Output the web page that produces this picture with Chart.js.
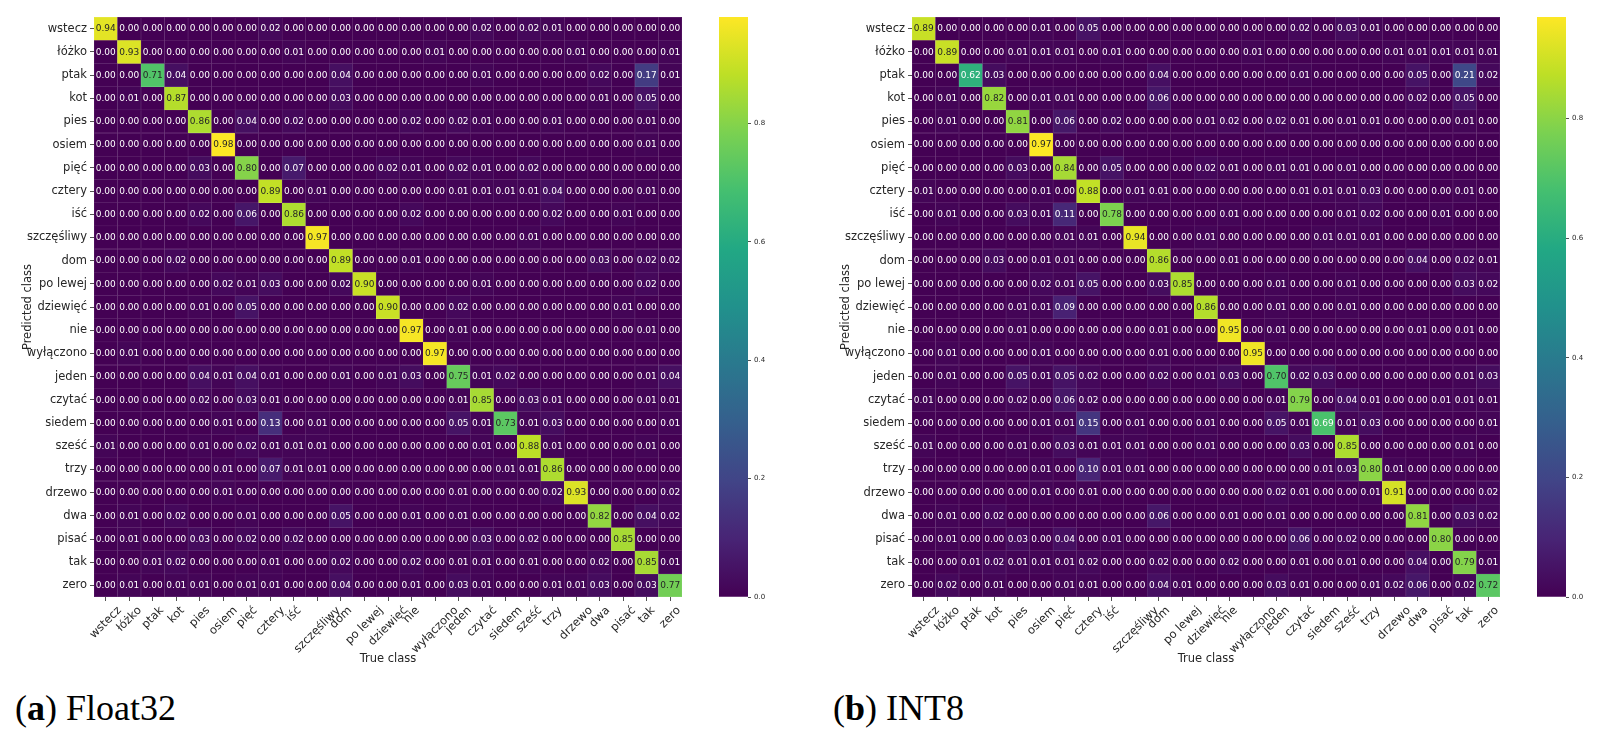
<!DOCTYPE html>
<html>
<head>
<meta charset="utf-8">
<script src="https://cdn.jsdelivr.net/npm/chart.js@4.4.1/dist/chart.umd.min.js"></script>
<style>
html,body{margin:0;padding:0;background:#fff;width:1598px;height:743px;overflow:hidden;}
canvas{position:absolute;top:0;}
.cap{position:absolute;top:690px;font-family:"Liberation Serif","Times New Roman",serif;font-size:36px;line-height:36px;color:#000;white-space:nowrap;}
.cap b{font-weight:bold;}
</style>
</head>
<body>
<canvas id="hmA" width="690" height="680" style="left:0px;width:690px;height:680px"></canvas>
<canvas id="cbA" width="60" height="610" style="left:719px;width:60px;height:610px"></canvas>
<canvas id="hmB" width="690" height="680" style="left:818px;width:690px;height:680px"></canvas>
<canvas id="cbB" width="60" height="610" style="left:1537px;width:60px;height:610px"></canvas>
<div class="cap" style="left:15px">(<b>a</b>) Float32</div>
<div class="cap" style="left:833px">(<b>b</b>) INT8</div>
<script>
// ---------- data ----------
const classes = ['wstecz','łóżko','ptak','kot','pies','osiem','pięć','cztery','iść','szczęśliwy','dom','po lewej','dziewięć','nie','wyłączono','jeden','czytać','siedem','sześć','trzy','drzewo','dwa','pisać','tak','zero'];

// rows = predicted class, columns = true class
const float32Values = [
  [0.94,0,0,0,0,0,0,0.02,0,0,0,0,0, 0,0,0,0.02,0,0.02,0.01,0,0,0,0,0],
  [0,0.93,0,0,0,0,0,0,0.01,0,0,0,0, 0,0.01,0,0,0,0,0,0.01,0,0,0,0.01],
  [0,0,0.71,0.04,0,0,0,0,0,0,0.04,0,0, 0,0,0,0.01,0,0,0,0,0.02,0,0.17,0.01],
  [0,0.01,0,0.87,0,0,0,0,0,0,0.03,0,0, 0,0,0,0,0,0,0,0,0.01,0,0.05,0],
  [0,0,0,0,0.86,0,0.04,0,0.02,0,0,0,0, 0.02,0,0.02,0.01,0,0,0.01,0,0,0,0.01,0],
  [0,0,0,0,0,0.98,0,0,0,0,0,0,0, 0,0,0,0,0,0,0,0,0,0,0.01,0],
  [0,0,0,0,0.03,0,0.80,0,0.07,0,0,0,0.02, 0.01,0,0.02,0.01,0,0.02,0,0,0,0,0,0],
  [0,0,0,0,0,0,0,0.89,0,0.01,0,0,0, 0,0,0.01,0.01,0.01,0.01,0.04,0,0,0,0.01,0],
  [0,0,0,0,0.02,0,0.06,0,0.86,0,0,0,0, 0.02,0,0,0,0,0,0.02,0,0,0.01,0,0],
  [0,0,0,0,0,0,0,0,0,0.97,0,0,0, 0,0,0,0,0,0.01,0,0,0,0,0,0],
  [0,0,0,0.02,0,0,0,0,0,0,0.89,0,0, 0.01,0,0,0,0,0,0,0,0.03,0,0.02,0.02],
  [0,0,0,0,0,0.02,0.01,0.03,0,0,0.02,0.90,0, 0,0,0,0.01,0,0,0,0,0,0,0.02,0],
  [0,0,0,0,0.01,0,0.05,0,0,0,0,0,0.90, 0,0,0.02,0,0,0,0,0,0,0.01,0,0],
  [0,0,0,0,0,0,0,0,0,0,0,0,0, 0.97,0,0.01,0,0,0,0,0,0,0,0.01,0],
  [0,0.01,0,0,0,0,0,0,0,0,0,0,0, 0,0.97,0,0,0,0,0,0,0,0,0,0],
  [0,0,0,0,0.04,0.01,0.04,0.01,0,0,0.01,0,0.01, 0.03,0,0.75,0.01,0.02,0,0,0,0,0,0.01,0.04],
  [0,0,0,0,0.02,0,0.03,0.01,0,0,0,0,0, 0,0,0.01,0.85,0,0.03,0.01,0,0,0,0.01,0.01],
  [0,0,0,0,0,0.01,0,0.13,0,0.01,0,0,0, 0,0,0.05,0.01,0.73,0.01,0.03,0,0,0,0,0.01],
  [0.01,0,0,0,0.01,0,0.02,0.01,0.01,0.01,0,0,0, 0,0,0,0.01,0,0.88,0.01,0,0,0,0.01,0],
  [0,0,0,0,0,0.01,0,0.07,0.01,0.01,0,0,0, 0,0,0,0,0.01,0.01,0.86,0,0,0,0,0],
  [0,0,0,0,0,0.01,0,0,0,0,0,0,0, 0,0,0.01,0,0,0,0.02,0.93,0,0,0,0.02],
  [0,0.01,0,0.02,0,0,0.01,0,0,0,0.05,0,0, 0.01,0,0.01,0,0,0,0,0,0.82,0,0.04,0.02],
  [0,0.01,0,0,0.03,0,0.02,0,0.02,0,0,0,0, 0,0,0,0.03,0,0.02,0,0,0,0.85,0,0],
  [0,0,0.01,0.02,0,0,0,0.01,0,0,0.02,0,0, 0.02,0,0.01,0.01,0,0.01,0,0,0.02,0,0.85,0.01],
  [0,0.01,0,0.01,0.01,0,0.01,0.01,0,0,0.04,0,0, 0.01,0,0.03,0.01,0,0,0.01,0.01,0.03,0,0.03,0.77]
];

const int8Values = [
  [0.89,0,0,0,0,0.01,0,0.05,0,0,0, 0,0,0,0,0,0.02,0,0.03,0.01,0,0,0, 0,0],
  [0,0.89,0,0,0.01,0.01,0.01,0,0.01,0,0, 0,0,0,0.01,0,0,0,0,0,0.01,0.01,0.01, 0.01,0.01],
  [0,0,0.62,0.03,0,0,0,0,0,0,0.04, 0,0,0,0,0,0.01,0,0,0,0,0.05,0, 0.21,0.02],
  [0,0.01,0,0.82,0,0.01,0.01,0,0,0,0.06, 0,0,0,0,0,0,0,0,0,0,0.02,0, 0.05,0],
  [0,0.01,0,0,0.81,0,0.06,0,0.02,0,0, 0,0.01,0.02,0,0.02,0.01,0,0.01,0.01,0,0,0, 0.01,0],
  [0,0,0,0,0,0.97,0,0,0,0,0, 0,0,0,0,0,0,0,0,0,0,0,0, 0,0],
  [0,0,0,0,0.03,0,0.84,0,0.05,0,0, 0,0.02,0.01,0,0.01,0.01,0,0.01,0,0,0,0, 0,0],
  [0.01,0,0,0,0,0.01,0,0.88,0,0.01,0.01, 0,0,0,0,0,0.01,0.01,0.01,0.03,0,0,0, 0.01,0],
  [0,0.01,0,0,0.03,0.01,0.11,0,0.78,0,0, 0,0,0.01,0,0,0,0,0.01,0.02,0,0,0.01, 0,0],
  [0,0,0,0,0,0,0.01,0.01,0,0.94,0, 0,0.01,0,0,0,0,0.01,0.01,0.01,0,0,0, 0,0],
  [0,0,0,0.03,0,0.01,0.01,0,0,0,0.86, 0,0,0.01,0,0,0,0,0,0,0,0.04,0, 0.02,0.01],
  [0,0,0,0,0,0.02,0.01,0.05,0,0,0.03, 0.85,0,0,0,0.01,0,0,0.01,0,0,0,0, 0.03,0.02],
  [0,0,0,0,0.01,0.01,0.09,0,0,0,0, 0,0.86,0,0,0.01,0,0,0.01,0,0,0,0, 0,0],
  [0,0,0,0,0.01,0,0,0,0,0,0.01, 0,0,0.95,0,0.01,0,0,0,0,0,0.01,0, 0.01,0],
  [0,0.01,0,0,0,0.01,0,0,0,0,0.01, 0,0,0,0.95,0,0,0,0,0,0,0,0, 0,0],
  [0,0.01,0,0,0.05,0.01,0.05,0.02,0,0,0.02, 0,0.01,0.03,0,0.70,0.02,0.03,0,0,0,0,0, 0.01,0.03],
  [0.01,0,0,0,0.02,0,0.06,0.02,0,0,0, 0,0,0,0,0.01,0.79,0,0.04,0.01,0,0,0.01, 0.01,0.01],
  [0,0,0,0,0,0.01,0.01,0.15,0,0.01,0, 0,0.01,0,0,0.05,0.01,0.69,0.01,0.03,0,0,0, 0,0.01],
  [0.01,0,0,0,0.01,0,0.03,0.01,0.01,0.01,0, 0,0.01,0,0,0,0.03,0,0.85,0,0,0,0, 0.01,0],
  [0,0,0,0,0,0.01,0,0.10,0.01,0.01,0, 0,0,0,0,0,0,0.01,0.03,0.80,0.01,0,0, 0,0],
  [0,0,0,0,0,0.01,0,0.01,0,0,0, 0,0,0,0,0.02,0.01,0,0,0.01,0.91,0,0, 0,0.02],
  [0,0.01,0,0.02,0,0,0,0,0,0,0.06, 0,0,0.01,0,0.01,0,0,0,0,0,0.81,0, 0.03,0.02],
  [0,0.01,0,0,0.03,0,0.04,0,0.01,0,0, 0,0,0,0,0,0.06,0,0.02,0,0,0,0.80, 0,0],
  [0,0,0.01,0.02,0.01,0.01,0.01,0.02,0,0,0.02, 0,0,0.02,0,0,0.01,0,0.01,0,0,0.04,0, 0.79,0.01],
  [0,0.02,0,0.01,0,0,0.01,0.01,0,0,0.04, 0.01,0,0,0,0.03,0.01,0,0,0.01,0.02,0.06,0, 0.02,0.72]
];

const colorbarTicks = [0.0, 0.2, 0.4, 0.6, 0.8];

// ---------- colour map (viridis) ----------
const viridisStops = ['#440154','#482475','#414487','#355f8d','#2a788e','#21918c','#22a884','#44bf70','#7ad151','#bddf26','#fde725'];
function hexRgb(h){ return [parseInt(h.slice(1,3),16), parseInt(h.slice(3,5),16), parseInt(h.slice(5,7),16)]; }
const viridisRgb = viridisStops.map(hexRgb);
function viridisArr(t){
  t = Math.max(0, Math.min(1, t));
  const p = t * (viridisRgb.length - 1);
  const i = Math.min(Math.floor(p), viridisRgb.length - 2);
  const f = p - i;
  return viridisRgb[i].map((c, k) => c + (viridisRgb[i+1][k] - c) * f);
}
function rgbStr(a){ return 'rgb(' + a.map(v => Math.round(v)).join(',') + ')'; }
function viridis(t){ return rgbStr(viridisArr(t)); }
function lineColor(t){ return rgbStr(viridisArr(t).map(c => c * 0.78 + 255 * 0.22)); }
function textColor(t){
  const lin = c => { c /= 255; return c <= 0.03928 ? c / 12.92 : Math.pow((c + 0.055) / 1.055, 2.4); };
  const [r, g, b] = viridisArr(t);
  const lum = 0.2126 * lin(r) + 0.7152 * lin(g) + 0.0722 * lin(b);
  return lum > 0.408 ? '#262626' : '#ffffff';
}

Chart.defaults.font.family = '"DejaVu Sans", sans-serif';
Chart.defaults.color = '#262626';
const LABEL_SIZE = 11.5;

// ---------- heatmap ----------
function makeHeatmap(canvasId, values) {
  const vmax = Math.max(...values.flat());
  const datasets = values.map((row, r) => ({
    label: classes[r],
    data: row.map(() => 1),
    backgroundColor: row.map(v => viridis(v / vmax)),
    borderColor: row.map(v => lineColor(v / vmax)),
    borderWidth: 0.5,
    borderSkipped: false,
    barPercentage: 1,
    categoryPercentage: 1,
    stack: 'cells'
  }));
  const annot = {
    id: 'annot',
    afterDatasetsDraw(chart) {
      const ctx = chart.ctx;
      ctx.save();
      ctx.font = '9px "DejaVu Sans"';
      ctx.textAlign = 'center';
      ctx.textBaseline = 'middle';
      values.forEach((row, r) => {
        chart.getDatasetMeta(r).data.forEach((bar, c) => {
          const p = bar.getProps(['x', 'y', 'base'], true);
          ctx.fillStyle = textColor(row[c] / vmax);
          ctx.fillText(row[c].toFixed(2), p.x, (p.y + p.base) / 2 + 0.5);
        });
      });
      ctx.restore();
    }
  };
  // x tick labels rotated 45 deg, centred on each tick (matplotlib ha="center")
  const xLabels = {
    id: 'xLabels',
    afterDraw(chart) {
      const xs = chart.scales.x;
      const ctx = chart.ctx;
      const y0 = chart.chartArea.bottom + 7;
      const h = LABEL_SIZE * 1.164;
      ctx.save();
      ctx.font = LABEL_SIZE + 'px "DejaVu Sans"';
      ctx.fillStyle = '#262626';
      ctx.textAlign = 'center';
      ctx.textBaseline = 'middle';
      classes.forEach((lab, i) => {
        const x = xs.getPixelForTick(i);
        const w = ctx.measureText(lab).width;
        const d = (w + h) / (2 * Math.SQRT2);
        ctx.save();
        ctx.translate(x, y0 + d);
        ctx.rotate(-Math.PI / 4);
        ctx.fillText(lab, 0, 0);
        ctx.restore();
      });
      ctx.restore();
    }
  };
  new Chart(document.getElementById(canvasId), {
    type: 'bar',
    data: { labels: classes, datasets },
    options: {
      responsive: false,
      animation: false,
      layout: { padding: { top: 17, right: 8, left: 0, bottom: 0 } },
      plugins: { legend: { display: false }, tooltip: { enabled: false } },
      scales: {
        x: {
          stacked: true,
          grid: { offset: false, drawOnChartArea: false, drawTicks: true, tickLength: 4, tickColor: '#262626', tickWidth: 0.8 },
          border: { display: false },
          ticks: { display: false, autoSkip: false },
          title: { display: true, text: 'True class', color: '#262626', font: { size: LABEL_SIZE }, padding: { top: 0, bottom: 14 } },
          afterFit(s) { s.height = 83; s.paddingLeft = 0; s.paddingRight = 0; }
        },
        y: {
          stacked: true,
          min: 0, max: 25, reverse: true,
          afterBuildTicks(s) { s.ticks = classes.map((_, i) => ({ value: i + 0.5 })); },
          grid: { drawOnChartArea: false, drawTicks: true, tickLength: 4, tickColor: '#262626', tickWidth: 0.8 },
          border: { display: false },
          ticks: { autoSkip: false, padding: 3, color: '#262626', font: { size: LABEL_SIZE }, callback: (v, i) => classes[i] },
          title: { display: true, text: 'Predicted class', color: '#262626', font: { size: LABEL_SIZE }, padding: { top: 21, bottom: 0 } },
          afterFit(s) { s.width = 94; s.paddingTop = 0; s.paddingBottom = 0; }
        }
      }
    },
    plugins: [annot, xLabels]
  });
  return vmax;
}

// ---------- colour bar ----------
function makeColorbar(canvasId, vmax) {
  new Chart(document.getElementById(canvasId), {
    type: 'bar',
    data: {
      labels: [''],
      datasets: [{
        data: [vmax],
        backgroundColor: (c) => {
          const a = c.chart.chartArea;
          if (!a) return viridis(0.5);
          const g = c.chart.ctx.createLinearGradient(0, a.bottom, 0, a.top);
          viridisStops.forEach((col, i) => g.addColorStop(i / (viridisStops.length - 1), col));
          return g;
        },
        borderWidth: 0,
        barPercentage: 1,
        categoryPercentage: 1
      }]
    },
    options: {
      responsive: false,
      animation: false,
      layout: { padding: { top: 17, bottom: 13, left: 0, right: 0 } },
      plugins: { legend: { display: false }, tooltip: { enabled: false } },
      scales: {
        x: { display: false },
        y: {
          position: 'right',
          min: 0, max: vmax,
          afterBuildTicks(s) { s.ticks = colorbarTicks.map(v => ({ value: v })); },
          ticks: { color: '#262626', font: { size: 7 }, padding: 3, callback: v => v.toFixed(1) },
          grid: { drawOnChartArea: false, drawTicks: true, tickLength: 3, tickColor: '#262626', tickWidth: 0.8 },
          border: { display: false },
          afterFit(s) { s.width = 31; s.paddingTop = 0; s.paddingBottom = 0; }
        }
      }
    }
  });
}

const vmaxA = makeHeatmap('hmA', float32Values);
makeColorbar('cbA', vmaxA);
const vmaxB = makeHeatmap('hmB', int8Values);
makeColorbar('cbB', vmaxB);
</script>
</body>
</html>
